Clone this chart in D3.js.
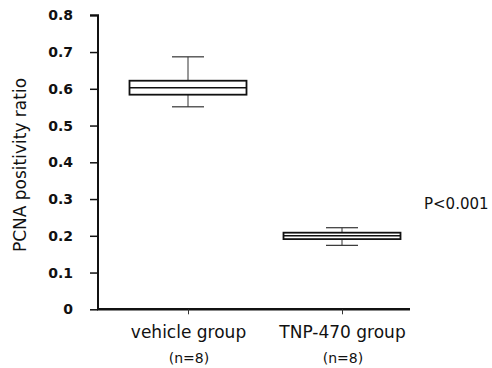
<!DOCTYPE html>
<head>
  <meta charset="utf-8">
  <script src="https://d3js.org/d3.v7.min.js"></script>
  <style>
    body { margin:0; background:#fff; }
    text { font-family: "DejaVu Sans", sans-serif; fill:#111; }
  </style>
</head>
<body>
<script>
  // data
  var groups = ["vehicle group", "TNP-470 group"];
  var nLabels = ["(n=8)", "(n=8)"];
  var whiskerLow = [0.551, 0.174];
  var q1 = [0.584, 0.191];
  var median = [0.603, 0.200];
  var q3 = [0.622, 0.2085];
  var whiskerHigh = [0.687, 0.222];
  var yTicks = [0, 0.1, 0.2, 0.3, 0.4, 0.5, 0.6, 0.7, 0.8];
  var pLabel = "P<0.001";

  var width = 492, height = 368;
  var svg = d3.select("body").append("svg")
    .attr("width", width).attr("height", height);

  var y = d3.scaleLinear().domain([0, 0.8]).range([309.3, 15.3]);
  var x = d3.scalePoint().domain(groups).range([188, 342]);
  var boxW = 117, capW = 32;

  // y axis
  var yAxis = svg.append("g")
    .attr("transform", "translate(98,0)")
    .call(d3.axisLeft(y).tickValues(yTicks).tickSize(8).tickPadding(17)
      .tickFormat(function(d) { return d === 0 ? "0" : d3.format(".1f")(d); }));
  yAxis.select(".domain").attr("stroke-width", 2).attr("stroke", "#111")
    .attr("d", "M-8," + y(0.8) + "H0V" + y(0));
  yAxis.selectAll(".tick line").attr("stroke-width", 1.5).attr("stroke", "#111");
  yAxis.selectAll(".tick text").style("font-size", "14px").style("font-weight", "bold")
    .style("font-family", "DejaVu Sans, sans-serif").attr("fill", "#111");

  // x axis line
  svg.append("line").attr("x1", 97).attr("x2", 410)
    .attr("y1", y(0)).attr("y2", y(0))
    .attr("stroke", "#111").attr("stroke-width", 2.5);

  var xAxis = svg.append("g")
    .attr("transform", "translate(0," + y(0) + ")")
    .call(d3.axisBottom(x).tickSize(5).tickPadding(12));
  xAxis.select(".domain").remove();
  xAxis.selectAll(".tick line").attr("stroke", "#333").attr("stroke-width", 1);
  xAxis.selectAll(".tick text").style("font-size", "17px")
    .style("font-family", "DejaVu Sans, sans-serif").attr("fill", "#111");

  // n labels
  svg.selectAll(".nlab").data(groups).enter().append("text")
    .attr("class", "nlab")
    .attr("x", function(d) { return x(d) + 1; })
    .attr("y", 363)
    .attr("text-anchor", "middle")
    .style("font-size", "14px")
    .text(function(d, i) { return nLabels[i]; });

  // boxes
  var box = svg.selectAll(".box").data(groups).enter().append("g").attr("class", "box");
  box.append("line")
    .attr("x1", function(d) { return x(d); }).attr("x2", function(d) { return x(d); })
    .attr("y1", function(d, i) { return y(whiskerHigh[i]); })
    .attr("y2", function(d, i) { return y(whiskerLow[i]); })
    .attr("stroke", "#333").attr("stroke-width", 1);
  box.append("line")
    .attr("x1", function(d) { return x(d) - capW / 2; }).attr("x2", function(d) { return x(d) + capW / 2; })
    .attr("y1", function(d, i) { return y(whiskerHigh[i]); })
    .attr("y2", function(d, i) { return y(whiskerHigh[i]); })
    .attr("stroke", "#333").attr("stroke-width", 1.2);
  box.append("line")
    .attr("x1", function(d) { return x(d) - capW / 2; }).attr("x2", function(d) { return x(d) + capW / 2; })
    .attr("y1", function(d, i) { return y(whiskerLow[i]); })
    .attr("y2", function(d, i) { return y(whiskerLow[i]); })
    .attr("stroke", "#333").attr("stroke-width", 1.2);
  box.append("rect")
    .attr("x", function(d) { return x(d) - boxW / 2; })
    .attr("width", boxW)
    .attr("y", function(d, i) { return y(q3[i]); })
    .attr("height", function(d, i) { return y(q1[i]) - y(q3[i]); })
    .attr("fill", "#fff").attr("stroke", "#111").attr("stroke-width", 1.8);
  box.append("line")
    .attr("x1", function(d) { return x(d) - boxW / 2; }).attr("x2", function(d) { return x(d) + boxW / 2; })
    .attr("y1", function(d, i) { return y(median[i]); })
    .attr("y2", function(d, i) { return y(median[i]); })
    .attr("stroke", "#111").attr("stroke-width", 1.5);

  // P value
  svg.append("text").attr("x", 424).attr("y", 209)
    .style("font-size", "15px").text(pLabel);

  // y title
  svg.append("text")
    .attr("transform", "translate(26,165) rotate(-90)")
    .attr("text-anchor", "middle")
    .style("font-size", "17px")
    .text("PCNA positivity ratio");
</script>
</body>
